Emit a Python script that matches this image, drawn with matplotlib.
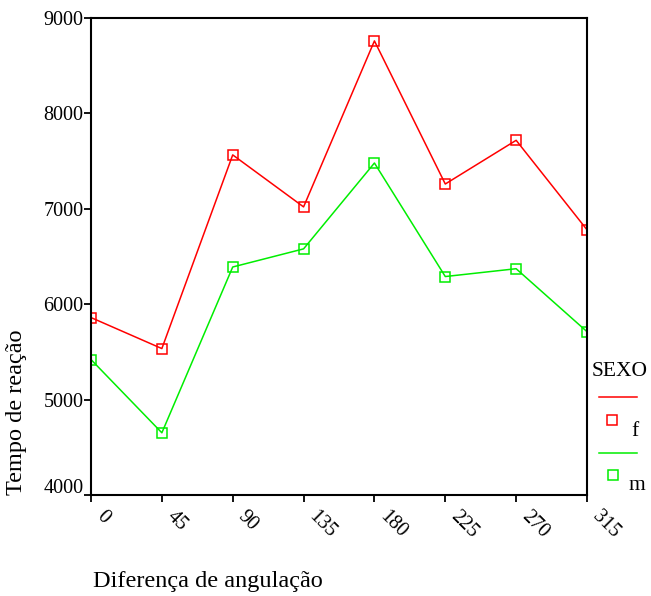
import matplotlib
matplotlib.use("Agg")
import matplotlib.pyplot as plt
import matplotlib.transforms as mtransforms
from matplotlib.lines import Line2D

plt.rcParams["font.family"] = ["Liberation Serif", "DejaVu Serif"]

angles = ["0", "45", "90", "135", "180", "225", "270", "315"]
tempo_f = [5860, 5535, 7565, 7020, 8760, 7260, 7718, 6780]
tempo_m = [5420, 4652, 6390, 6580, 7480, 6290, 6372, 5712]
y_ticks = [4000, 5000, 6000, 7000, 8000, 9000]

RED = "#ff0000"
GREEN = "#00ee00"

fig = plt.figure(figsize=(6.51, 5.96), dpi=100)
ax = fig.add_axes([91 / 651, 1 - 495 / 596, 496 / 651, 477 / 596])

x = list(range(len(angles)))
ax.plot(x, tempo_f, color=RED, lw=1.1, marker="s", ms=7.5,
        mfc="none", mec=RED, mew=1.1)
ax.plot(x, tempo_m, color=GREEN, lw=1.1, marker="s", ms=7.5,
        mfc="none", mec=GREEN, mew=1.1)

ax.set_xlim(0, len(angles) - 1)
ax.set_ylim(4000, 9000)
ax.set_xticks(x)
ax.set_xticklabels(angles, rotation=-45, ha="left", va="baseline",
                   rotation_mode="anchor")
ax.set_yticks(y_ticks)
ax.tick_params(direction="out", length=5, width=1.3, labelsize=14.5, pad=0.5)
ax.tick_params(axis="x", pad=11)
for s in ax.spines.values():
    s.set_linewidth(1.5)

# x labels start a bit right of their ticks
shift = mtransforms.ScaledTranslation(5 / 100, 0, fig.dpi_scale_trans)
for t in ax.get_xticklabels():
    t.set_transform(t.get_transform() + shift)

# lowest y label sits a little above the x axis, as in the source
lbl = ax.get_yticklabels()[0]
lbl.set_transform(lbl.get_transform() +
                  mtransforms.ScaledTranslation(0, 9 / 100, fig.dpi_scale_trans))

fig.text(17 / 651, 1 - 412 / 596, "Tempo de reação", fontsize=17.5,
         rotation=90, ha="center", va="center")
fig.text(93 / 651, 1 - 581 / 596, "Diferença de angulação", fontsize=17.5,
         ha="left", va="center")

# legend drawn at figure level
fig.text(620 / 651, 1 - 372 / 596, "SEXO", fontsize=15.5, ha="center", va="center")
fig.add_artist(Line2D([599 / 651, 637 / 651], [1 - 397 / 596] * 2,
                      color=RED, lw=1.1))
fig.add_artist(Line2D([612 / 651], [1 - 420 / 596], marker="s", ms=7,
                      mfc="none", mec=RED, mew=1.1, ls="none"))
fig.text(635 / 651, 1 - 431 / 596, "f", fontsize=15.5, ha="center", va="center")
fig.add_artist(Line2D([599 / 651, 637 / 651], [1 - 453 / 596] * 2,
                      color=GREEN, lw=1.1))
fig.add_artist(Line2D([613 / 651], [1 - 475 / 596], marker="s", ms=7,
                      mfc="none", mec=GREEN, mew=1.1, ls="none"))
fig.text(637 / 651, 1 - 486 / 596, "m", fontsize=15.5, ha="center", va="center")

fig.savefig("out.png", dpi=100)
